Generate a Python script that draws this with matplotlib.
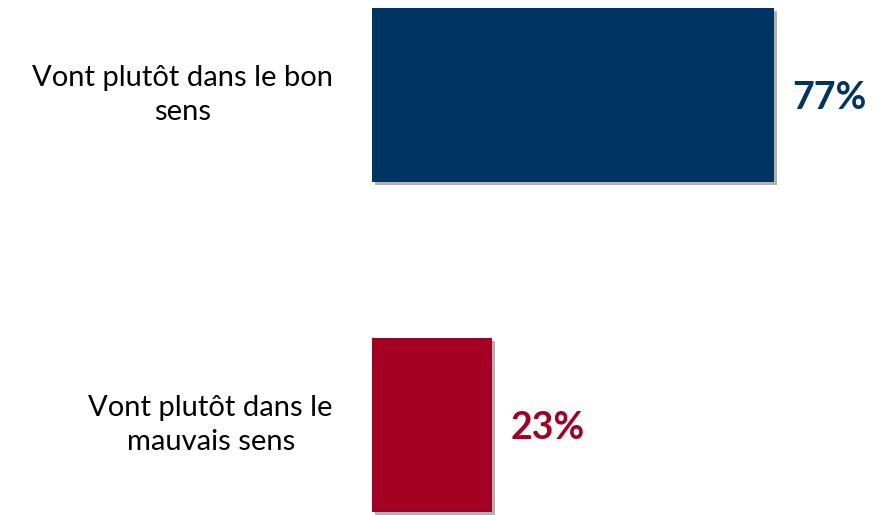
import matplotlib
matplotlib.use("Agg")
import matplotlib.pyplot as plt
import matplotlib.patheffects as pe

categories = ["Vont plutôt dans le bon\nsens", "Vont plutôt dans le\nmauvais sens"]
values = [77, 23]
colors = ["#003463", "#A30022"]

W, H = 887, 515
fig = plt.figure(figsize=(W / 100, H / 100), dpi=100)
# axes: zero at x=372px, 1% = 5.22px; bar centres at 95px and 425px from top
ax = fig.add_axes([372 / W, 0, 522 / W, 1])
ax.set_xlim(0, 100)
ax.set_ylim(1 + 90 / 330, -95 / 330)
ax.axis("off")

ypos = list(range(len(values)))
bars = ax.barh(ypos, values, height=0.527, color=colors)
for b in bars:
    b.set_path_effects([pe.SimplePatchShadow(offset=(2, -2), shadow_rgbFace="black", alpha=0.3),
                        pe.Normal()])

for y, v, c, lab in zip(ypos, values, colors, categories):
    ax.text(v + 3.6, y + 0.01, f"{v}%", ha="left", va="center", color=c,
            fontsize=27, fontweight="bold", family="Lato")
    ax.annotate(lab, xy=(0, y), xycoords="data", xytext=(-39, 0), textcoords="offset pixels",
                ha="right", va="center", multialignment="center",
                fontsize=21, family="Lato", color="black", linespacing=1.4)

fig.savefig("out.png", dpi=100)
